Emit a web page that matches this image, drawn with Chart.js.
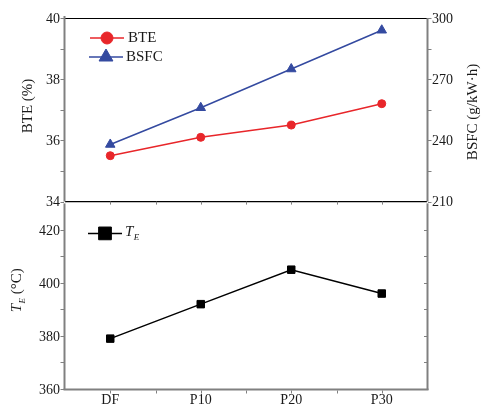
<!DOCTYPE html>
<html>
<head>
<meta charset="utf-8">
<title>BTE / BSFC / TE</title>
<script src="https://cdn.jsdelivr.net/npm/chart.js@4/dist/chart.umd.min.js"></script>
<style>
  html, body { margin: 0; padding: 0; background: #fff; }
  #wrap { position: relative; width: 481px; height: 405px; overflow: hidden; }
  #wrap canvas { position: absolute; left: 0; }
</style>
</head>
<body>
<div id="wrap">
  <canvas id="topChart" width="481" height="215" style="top:0"></canvas>
  <canvas id="botChart" width="481" height="215" style="top:190px"></canvas>
</div>
<script>
// fuel blends on the x axis
const fuels = ['DF', 'P10', 'P20', 'P30'];

// brake thermal efficiency (%), left axis of the upper panel
const bte = [35.5, 36.1, 36.5, 37.2];
// brake specific fuel consumption (g/kW·h), right axis of the upper panel
const bsfc = [238, 256, 275, 294];
// exhaust temperature (°C), lower panel
const te = [379, 392, 405, 396];

const bteTicks = [34, 36, 38, 40];
const bsfcTicks = [210, 240, 270, 300];
const teTicks = [360, 380, 400, 420];

const RED = 'rgb(232,38,42)';
const BLUE = 'rgb(52,74,160)';
const AXIS_GRAY = '#808080';
const INK = '#1a1a1a';
const SERIF = '"Liberation Serif", "Times New Roman", serif';

const mids = arr => arr.slice(1).map((v, i) => (v + arr[i]) / 2);

function hLine(ctx, x1, x2, y, color, w) {
  ctx.save();
  ctx.strokeStyle = color; ctx.lineWidth = w;
  ctx.beginPath(); ctx.moveTo(x1, y); ctx.lineTo(x2, y); ctx.stroke();
  ctx.restore();
}
function vLine(ctx, x, y1, y2, color, w) {
  ctx.save();
  ctx.strokeStyle = color; ctx.lineWidth = w;
  ctx.beginPath(); ctx.moveTo(x, y1); ctx.lineTo(x, y2); ctx.stroke();
  ctx.restore();
}

// tick marks on a vertical axis, dir = -1 points left, +1 points right
function yTicks(ctx, scale, values, x, dir, len) {
  values.forEach(v => {
    const y = Math.round(scale.getPixelForValue(v)) + 0.5;
    hLine(ctx, x, x + dir * len, y, AXIS_GRAY, 1);
  });
}
// tick marks on the category axis: at each category and halfway between
function xTicks(ctx, scale, y, dir, len) {
  const xs = fuels.map((f, i) => scale.getPixelForValue(i));
  xs.concat(mids(xs)).forEach(x => {
    vLine(ctx, Math.round(x) + 0.5, y, y + dir * len, AXIS_GRAY, 1);
  });
}

function marker(ctx, style, x, y, r, color) {
  ctx.save();
  ctx.fillStyle = color; ctx.strokeStyle = color; ctx.lineWidth = 1;
  Chart.helpers.drawPoint(ctx, { pointStyle: style, radius: r, borderWidth: 1 }, x, y);
  ctx.restore();
}

// T with subscript E, then an optional tail, drawn from (x, y) on a middle baseline
function drawTE(ctx, x, y, size, tail) {
  ctx.textBaseline = 'middle';
  ctx.textAlign = 'left';
  ctx.font = `italic ${size}px ${SERIF}`;
  ctx.fillText('T', x, y);
  x += ctx.measureText('T').width + 0.5;
  ctx.font = `italic ${Math.round(size * 0.6)}px ${SERIF}`;
  ctx.fillText('E', x, y + size * 0.35);
  x += ctx.measureText('E').width;
  if (tail) {
    ctx.font = `${size}px ${SERIF}`;
    ctx.fillText(tail, x, y);
  }
}
function widthTE(ctx, size, tail) {
  ctx.font = `italic ${size}px ${SERIF}`;
  let w = ctx.measureText('T').width + 0.5;
  ctx.font = `italic ${Math.round(size * 0.6)}px ${SERIF}`;
  w += ctx.measureText('E').width;
  if (tail) { ctx.font = `${size}px ${SERIF}`; w += ctx.measureText(tail).width; }
  return w;
}

function legendRow(ctx, x, y, color, style, r, lw) {
  hLine(ctx, x, x + 34, y, color, lw);
  marker(ctx, style, x + 17, y, r, color);
}

// frame, ticks, titles and legend of the upper panel
const topDecor = {
  id: 'topDecor',
  afterDatasetsDraw(chart) {
    const { ctx, chartArea: a, scales } = chart;
    hLine(ctx, a.left - 1, a.right + 1, a.top + 0.5, '#000', 1);
    hLine(ctx, a.left, a.right, a.bottom, '#000', 1.2);
    vLine(ctx, a.left - 0.5, a.top - 2, a.bottom, AXIS_GRAY, 2);
    vLine(ctx, a.right + 0.5, a.top, a.bottom, AXIS_GRAY, 2);
    yTicks(ctx, scales.y, bteTicks.concat(mids(bteTicks)), a.left - 1, -1, 3.5);
    yTicks(ctx, scales.y1, bsfcTicks.concat(mids(bsfcTicks)), a.right + 1, 1, 3.5);
    xTicks(ctx, scales.x, a.bottom, 1, 3);

    ctx.save();
    ctx.fillStyle = INK;
    ctx.font = `15px ${SERIF}`;
    ctx.textAlign = 'center';
    ctx.textBaseline = 'middle';
    ctx.translate(28, 106);
    ctx.rotate(-Math.PI / 2);
    ctx.fillText('BTE (%)', 0, 0);
    ctx.restore();

    ctx.save();
    ctx.fillStyle = INK;
    ctx.font = `15px ${SERIF}`;
    ctx.textAlign = 'center';
    ctx.textBaseline = 'middle';
    ctx.translate(473, 112);
    ctx.rotate(-Math.PI / 2);
    ctx.fillText('BSFC (g/kW·h)', 0, 0);
    ctx.restore();

    // legend
    legendRow(ctx, 90, 38, RED, 'circle', 6, 1.5);
    legendRow(ctx, 89, 57, BLUE, 'triangle', 8, 1.5);
    ctx.save();
    ctx.fillStyle = INK;
    ctx.font = `15px ${SERIF}`;
    ctx.textBaseline = 'middle';
    ctx.fillText('BTE', 128, 38.5);
    ctx.fillText('BSFC', 126, 57.5);
    ctx.restore();
  }
};

// frame, ticks, titles and legend of the lower panel
const botDecor = {
  id: 'botDecor',
  afterDatasetsDraw(chart) {
    const { ctx, chartArea: a, scales } = chart;
    vLine(ctx, a.left - 0.5, a.top, a.bottom + 1, AXIS_GRAY, 2);
    vLine(ctx, a.right + 0.5, a.top, a.bottom + 1, AXIS_GRAY, 2);
    hLine(ctx, a.left - 1.5, a.right + 1.5, a.bottom + 0.5, AXIS_GRAY, 2);
    const all = teTicks.concat(mids(teTicks));
    yTicks(ctx, scales.y, all, a.left - 1, -1, 3.5);
    yTicks(ctx, scales.y, all.concat([410]), a.right, -1, 3);
    xTicks(ctx, scales.x, a.bottom + 1.5, 1, 3);

    ctx.save();
    ctx.fillStyle = INK;
    const w = widthTE(ctx, 15, ' (°C)');
    ctx.translate(19, (a.top + a.bottom) / 2 - 6);
    ctx.rotate(-Math.PI / 2);
    drawTE(ctx, -w / 2, -2, 15, ' (°C)');
    ctx.restore();

    legendRow(ctx, 88, a.top + 30, '#000', 'rect', 9, 1.5);
    ctx.save();
    ctx.fillStyle = INK;
    drawTE(ctx, 125, a.top + 29, 15, '');
    ctx.restore();
  }
};

const tickFont = { family: SERIF, size: 14 };

new Chart(document.getElementById('topChart'), {
  type: 'line',
  data: {
    labels: fuels,
    datasets: [{
      label: 'BTE',
      data: bte,
      yAxisID: 'y',
      borderColor: RED,
      backgroundColor: RED,
      borderWidth: 1.5,
      pointStyle: 'circle',
      pointRadius: 4,
      pointBorderWidth: 1
    }, {
      label: 'BSFC',
      data: bsfc,
      yAxisID: 'y1',
      borderColor: BLUE,
      backgroundColor: BLUE,
      borderWidth: 1.5,
      pointStyle: 'triangle',
      pointRadius: 5.5,
      pointBorderWidth: 1
    }]
  },
  options: {
    responsive: false,
    animation: false,
    events: [],
    layout: { padding: { top: 18, left: 0, right: 0, bottom: 0 } },
    plugins: { legend: { display: false }, tooltip: { enabled: false } },
    scales: {
      x: {
        offset: true,
        grid: { display: false },
        border: { display: false },
        ticks: { display: false },
        afterFit: s => { s.height = 12; }
      },
      y: {
        position: 'left',
        min: 34, max: 40,
        afterBuildTicks: s => { s.ticks = bteTicks.map(v => ({ value: v })); },
        grid: { display: false, drawTicks: false },
        border: { display: false },
        ticks: { font: tickFont, color: INK, padding: 5, labelOffset: 1 },
        afterFit: s => { s.width = 65; }
      },
      y1: {
        position: 'right',
        min: 210, max: 300,
        afterBuildTicks: s => { s.ticks = bsfcTicks.map(v => ({ value: v })); },
        grid: { display: false, drawTicks: false },
        border: { display: false },
        ticks: { font: tickFont, color: INK, padding: 5, labelOffset: 1 },
        afterFit: s => { s.width = 54; }
      }
    }
  },
  plugins: [topDecor]
});

new Chart(document.getElementById('botChart'), {
  type: 'line',
  data: {
    labels: fuels,
    datasets: [{
      label: 'TE',
      data: te,
      borderColor: '#000',
      backgroundColor: '#000',
      borderWidth: 1.5,
      pointStyle: 'rect',
      pointRadius: 5.3,
      pointBorderWidth: 1
    }]
  },
  options: {
    responsive: false,
    animation: false,
    events: [],
    layout: { padding: { top: 13, left: 0, right: 54, bottom: 0 } },
    plugins: { legend: { display: false }, tooltip: { enabled: false } },
    scales: {
      x: {
        offset: true,
        grid: { display: false, drawTicks: false },
        border: { display: false },
        ticks: { font: tickFont, color: INK, padding: 3, maxRotation: 0 },
        afterFit: s => { s.height = 16; }
      },
      y: {
        position: 'left',
        min: 360, max: 430,
        afterBuildTicks: s => { s.ticks = teTicks.map(v => ({ value: v })); },
        grid: { display: false, drawTicks: false },
        border: { display: false },
        ticks: { font: tickFont, color: INK, padding: 5, labelOffset: 1 },
        afterFit: s => { s.width = 65; }
      }
    }
  },
  plugins: [botDecor]
});
</script>
</body>
</html>
